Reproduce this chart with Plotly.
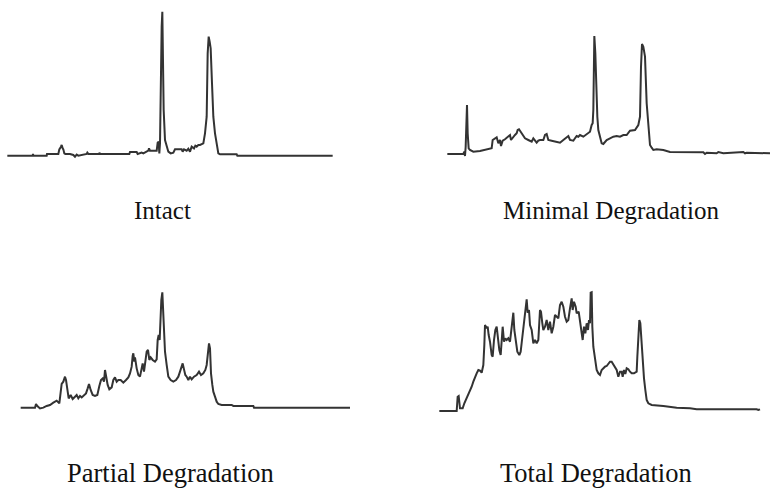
import plotly.graph_objects as go

# ---- Data: migration time (arbitrary units) and fluorescence (arbitrary units) ----
intact_t = [2.2, 9.8, 9.9, 10.0, 14.0, 14.1, 17.5, 17.8, 18.3, 18.5, 18.8, 19.0, 19.3, 19.6,
            21.0, 22.0, 22.5, 23.0, 23.5, 26.0, 26.2, 26.5, 29.7, 29.9, 30.0,
            38.8, 39.0, 41.0, 41.3, 42.5, 43.0, 44.0, 44.5, 44.7, 45.0, 47.0, 47.3, 47.6, 47.8, 48.0,
            48.3, 48.5, 48.7, 48.9, 49.1, 49.5, 50.0, 50.5, 51.2, 52.0, 52.5, 54.5, 54.8, 55.2, 56.0,
            56.5, 57.0, 57.5, 58.2, 58.6, 59.0, 59.5, 60.0, 61.0, 61.5, 62.0, 62.3, 62.6, 62.9, 63.2,
            63.6, 64.0, 64.5, 65.0, 65.5, 66.0, 71.0, 71.2, 99.8]
intact_fu = [0, 0, 1.7, 0, 0, 1.7, 1.7, 6.3, 9.0, 10.7, 7.3, 6.3, 2.3, 1.7,
             1.7, 0.7, -1.0, 1.0, 0, 1.7, 3.0, 1.7, 1.7, 3.0, 1.7,
             1.7, 3.7, 3.7, 1.7, 3.0, 2.3, 4.0, 5.0, 7.3, 5.0, 5.0, 13.0, 14.0, 2.3, 12.3,
             122.3, 129.0, 144.0, 89.0, 45.7, 15.7, 9.0, 4.0, 2.3, 3.0, 6.3, 6.3, 4.0, 6.3, 5.0,
             7.0, 4.0, 9.0, 7.3, 10.0, 9.0, 10.7, 10.7, 12.3, 22.3, 39.0, 102.3, 119.0, 114.0, 107.3,
             72.3, 39.0, 22.3, 12.3, 2.3, 1.3, 1.3, 0, 0]

minimal_t = [5.2, 10.0, 10.3, 10.5, 10.7, 10.9, 11.1, 11.3, 11.6, 12.0, 13.0, 15.0, 18.5, 18.8,
             19.5, 20.0, 20.5, 21.0, 21.3, 21.8, 22.5, 23.5, 24.0, 24.3, 25.0, 25.5, 26.0, 26.3,
             26.7, 27.2, 27.8, 28.5, 29.5, 30.5, 31.0, 31.5, 32.0, 32.5, 33.0, 34.0, 34.5, 35.0,
             35.5, 36.5, 37.5, 39.0, 40.0, 41.0, 41.5, 42.0, 43.0, 43.5, 44.0, 44.5, 45.0, 46.0,
             47.0, 48.0, 48.5, 48.8, 49.0, 49.2, 49.3, 49.6, 49.9, 50.2, 50.5, 51.0, 51.5, 52.0,
             53.0, 54.0, 55.0, 56.0, 57.0, 58.0, 59.0, 60.0, 61.5, 62.5, 63.0, 63.3, 63.6, 64.0,
             64.5, 65.0, 65.5, 66.0, 66.5, 67.0, 68.0, 70.0, 72.0, 82.0, 82.5, 83.0, 86.0, 86.5,
             88.0, 91.5, 92.0, 94.0, 94.5, 95.0, 102.0]
minimal_fu = [0, 0, 2.3, -2.0, 7.3, 47.3, 49.0, 20.7, 5.7, 4.0, 2.3, 3.0, 5.7, 14.0,
              15.7, 16.7, 10.7, 14.0, 8.0, 13.3, 14.7, 17.3, 19.0, 14.0, 17.3, 19.0, 20.7, 24.0,
              24.7, 22.3, 19.0, 15.7, 14.0, 12.3, 15.7, 13.3, 11.3, 13.3, 14.0, 14.0, 19.0, 20.0,
              14.0, 13.3, 12.3, 11.3, 14.0, 16.7, 18.0, 14.0, 13.3, 15.7, 18.0, 17.3, 19.0, 17.3,
              20.0, 22.3, 29.0, 30.7, 44.0, 107.3, 118.0, 100.7, 60.7, 37.3, 24.0, 15.7, 10.7, 10.0,
              14.0, 15.7, 17.3, 18.0, 17.3, 19.0, 19.0, 23.3, 24.0, 29.0, 37.3, 87.3, 110.0, 107.3,
              97.3, 50.7, 24.0, 9.0, 6.3, 4.0, 4.7, 4.0, 2.0, 1.7, 0, 1.3, 0.7, 2.0,
              0.7, 1.3, 2.0, 2.0, 0.7, 1.3, 0.7]

partial_t = [6.2, 10.5, 10.8, 11.2, 12.0, 13.0, 14.0, 15.0, 16.0, 17.0, 17.8, 18.2, 18.5, 19.0,
             19.5, 19.8, 20.2, 20.6, 21.2, 21.8, 22.5, 23.0, 23.5, 24.0, 24.5, 25.2, 25.8, 26.3,
             26.7, 27.2, 27.8, 28.5, 29.2, 29.8, 30.3, 30.8, 31.2, 31.5, 31.8, 32.3, 32.8, 33.5,
             34.0, 34.5, 35.0, 35.5, 36.2, 37.0, 37.8, 38.5, 39.0, 39.5, 39.8, 40.0, 40.3, 40.5,
             41.0, 41.5, 42.0, 42.5, 42.8, 43.2, 43.6, 44.0, 44.4, 44.8, 45.2, 45.8, 46.5, 47.0,
             47.3, 47.6, 47.9, 48.2, 48.4, 48.7, 49.0, 49.5, 50.0, 50.5, 51.2, 52.0, 52.8, 53.5,
             54.0, 54.5, 54.8, 55.2, 55.6, 56.0, 56.5, 57.0, 57.5, 58.2, 59.0, 59.7, 60.3, 61.0,
             61.6, 62.0, 62.3, 62.7, 63.0, 63.3, 63.7, 64.0, 64.5, 65.0, 65.5, 66.5, 69.5, 70.0,
             76.0, 76.2, 105.0]
partial_fu = [0, 0, 3.7, 1.7, -0.7, 0, 1.7, 2.7, 5.0, 7.0, 4.3, 14.3, 23.7, 26.0,
              31.0, 27.7, 17.7, 9.3, 12.7, 8.7, 11.0, 12.7, 9.3, 11.7, 10.3, 12.7, 14.3, 19.3,
              23.7, 17.7, 12.7, 11.7, 12.7, 21.7, 27.7, 29.3, 26.0, 37.7, 31.0, 22.7, 18.3, 20.3,
              27.7, 30.3, 26.0, 27.7, 27.7, 25.0, 27.7, 30.3, 34.3, 41.0, 51.7, 54.3, 46.0, 50.3,
              39.3, 32.7, 31.0, 37.7, 44.3, 36.0, 47.7, 56.0, 57.7, 47.7, 50.3, 47.7, 46.0, 48.3,
              67.7, 72.7, 67.7, 94.3, 107.7, 115.3, 87.7, 56.0, 42.7, 31.0, 27.7, 26.0, 27.7, 31.0,
              36.0, 42.7, 44.3, 38.3, 32.7, 31.0, 27.7, 31.0, 28.3, 31.0, 32.7, 36.0, 32.7, 34.3,
              37.7, 42.7, 51.0, 64.3, 59.3, 34.3, 22.7, 16.0, 11.0, 6.0, 3.7, 2.7, 2.7, 1.7,
              1.7, 0, 0]

total_t = [2.8, 8.0, 8.3, 8.6, 9.0, 9.4, 9.8, 10.3, 11.0, 11.5, 12.0, 12.5, 13.0, 13.5,
           14.0, 14.5, 15.0, 15.5, 16.0, 16.3, 16.5, 17.0, 17.3, 17.6, 18.0, 18.5, 18.8, 19.2,
           19.6, 20.0, 20.4, 20.8, 21.2, 21.5, 21.8, 22.2, 22.6, 23.0, 23.5, 24.0, 24.5, 25.0,
           25.3, 25.8, 26.2, 26.8, 27.2, 27.6, 28.0, 28.5, 29.0, 29.3, 29.7, 30.0, 30.5, 31.0,
           31.5, 32.0, 32.5, 33.0, 33.3, 33.7, 34.0, 34.5, 35.0, 35.5, 36.0, 36.5, 37.0, 37.5,
           38.0, 38.5, 39.0, 39.5, 40.0, 40.5, 41.0, 41.5, 42.0, 42.5, 42.8, 43.2, 43.7, 44.0,
           44.6, 45.0, 45.4, 45.8, 46.2, 46.6, 47.0, 47.4, 47.7, 48.0, 48.2, 48.5, 48.7, 49.0,
           49.5, 50.0, 50.5, 51.0, 51.5, 52.0, 52.5, 53.0, 53.5, 54.0, 54.5, 55.0, 55.5, 56.0,
           56.5, 57.0, 57.5, 57.8, 58.2, 58.6, 59.0, 59.5, 60.0, 60.5, 61.2, 62.0, 62.2, 62.5,
           62.8, 63.1, 63.4, 63.8, 64.2, 64.6, 65.0, 65.5, 66.5, 70.0, 74.0, 78.0, 80.0, 98.0,
           98.5, 99.0]
total_fu = [0, 0, 14.3, 15.0, 2.7, 2.7, 2.7, 7.7, 12.7, 17.7, 21.0, 24.3, 29.3, 34.3,
            37.7, 41.0, 40.3, 38.3, 46.0, 66.0, 86.0, 82.7, 84.3, 76.0, 69.3, 56.0, 54.3, 71.0,
            81.0, 84.3, 72.7, 61.0, 56.0, 76.0, 84.3, 69.3, 72.7, 71.0, 72.7, 69.3, 86.0, 98.3,
            81.0, 67.7, 59.3, 56.0, 59.3, 71.0, 81.0, 96.0, 111.7, 98.3, 101.0, 86.0, 81.0, 67.7,
            71.0, 67.7, 71.0, 101.0, 99.3, 87.7, 81.0, 84.3, 91.0, 81.0, 89.3, 77.7, 84.3, 96.0,
            94.3, 92.7, 106.0, 109.3, 104.3, 94.3, 89.3, 91.0, 102.7, 112.7, 101.0, 109.3, 104.3, 97.7,
            99.3, 89.3, 76.0, 71.0, 84.3, 77.7, 87.7, 81.0, 91.0, 87.7, 118.3, 118.7, 84.3, 64.3,
            52.7, 41.0, 37.7, 36.0, 41.0, 42.7, 44.3, 45.0, 47.7, 49.3, 49.3, 46.0, 42.7, 41.0,
            34.3, 39.3, 39.3, 34.3, 41.0, 37.0, 42.7, 41.7, 39.3, 37.7, 37.7, 39.3, 54.3, 69.3,
            91.0, 87.7, 71.0, 51.0, 32.7, 21.0, 11.0, 7.7, 6.0, 5.0, 3.3, 2.7, 1.7, 1.7,
            1.0, 1.7]

labels = ["Intact", "Minimal Degradation", "Partial Degradation", "Total Degradation"]
series = [(intact_t, intact_fu), (minimal_t, minimal_fu), (partial_t, partial_fu), (total_t, total_fu)]

# ---- Layout (pixel boxes of each panel) ----
W, H = 770, 488
# (left, top, width, height, baseline offset from top) in pixels
boxes = [(0, 0, 340, 170, 155.67),
         (430, 20, 340, 150, 134.0),
         (0, 280, 360, 140, 127.67),
         (430, 280, 340, 140, 131.0)]
label_pos = [(162, 210), (611, 210), (170, 473), (596, 473)]
label_size = [25, 25, 26.5, 26.5]

fig = go.Figure()
layout = dict(width=W, height=H, margin=dict(l=0, r=0, t=0, b=0),
              paper_bgcolor="white", plot_bgcolor="white", showlegend=False)
annotations = []
for i, ((t, fu), (lft, top, w, h, base), lab, (lx, ly), fs) in enumerate(
        zip(series, boxes, labels, label_pos, label_size)):
    sfx = "" if i == 0 else str(i + 1)
    fig.add_trace(go.Scatter(x=t, y=fu, mode="lines", xaxis="x" + sfx, yaxis="y" + sfx,
                             line=dict(color="#333333", width=2), hoverinfo="skip"))
    layout["xaxis" + sfx] = dict(domain=[lft / W, (lft + w) / W], range=[0, w * 0.3],
                                 visible=False, anchor="y" + sfx)
    layout["yaxis" + sfx] = dict(domain=[1 - (top + h) / H, 1 - top / H], range=[base - h, base],
                                 visible=False, anchor="x" + sfx)
    annotations.append(dict(text=lab, x=lx / W, y=1 - ly / H, xref="paper", yref="paper",
                            xanchor="center", yanchor="middle", showarrow=False,
                            font=dict(family="Liberation Serif, Times New Roman, serif",
                                      size=fs, color="#111111")))
layout["annotations"] = annotations
fig.update_layout(**layout)
fig.write_html("out.html", config={"displayModeBar": False},
               post_script="document.body.style.margin='0';document.body.style.overflow='hidden';")
